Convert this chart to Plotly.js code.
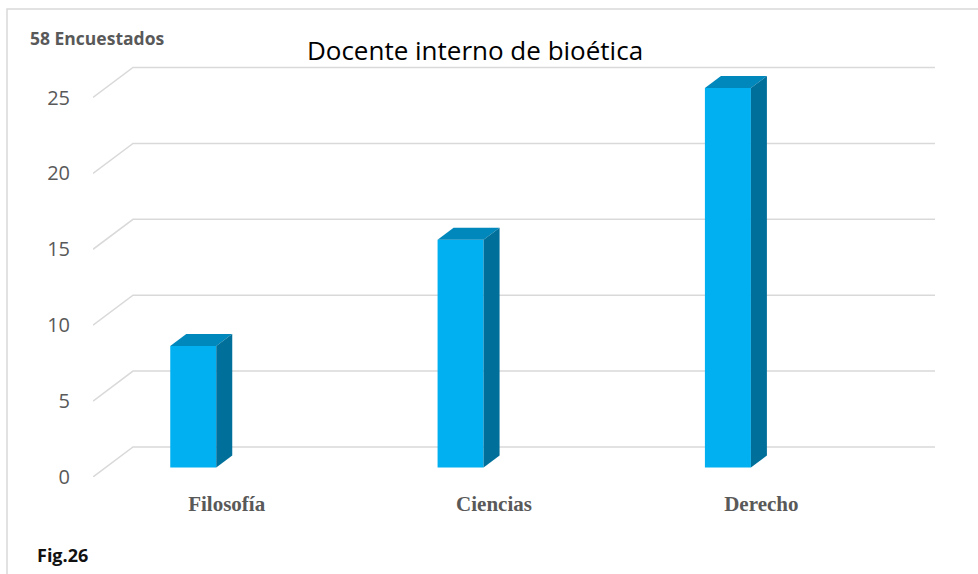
<!DOCTYPE html>
<html>
<head>
<meta charset="utf-8">
<script src="https://cdn.plot.ly/plotly-3.0.1.min.js"></script>
<style>
  html, body { margin: 0; padding: 0; background: #fff; }
  #chart { width: 978px; height: 574px; }
</style>
</head>
<body>
<div id="chart"></div>
<script>
// Docente interno de bioética – respuestas por facultad
const categories = ['Filosofía', 'Ciencias', 'Derecho'];
const values = [8, 15, 25];
const tickValues = [0, 5, 10, 15, 20, 25];

// Plot geometry (pixels) used to express the pseudo-3D depth in axis units
const W = 978, H = 574;
const M = { l: 93, r: 43, t: 60, b: 97 };
const plotW = W - M.l - M.r;
const plotH = H - M.t - M.b;
const X0 = -0.5, PX_PER_X = 267.33;           // one category per 267 px
const Y0 = 0, PX_PER_Y = 15.18;               // one unit per 15.18 px
const xRange = [X0, X0 + plotW / PX_PER_X];
const yRange = [Y0, Y0 + plotH / PX_PER_Y];

// floor depth (back wall offset) and bar depth, in axis units
const floorDX = 40 / PX_PER_X, floorDY = 30 / PX_PER_Y;
const barDX = 16 / PX_PER_X, barDY = 12 / PX_PER_Y;
const barBase = 9.5 / PX_PER_Y;               // bar sits a third into the floor
const barShift = -0.125, barWidth = 46 / PX_PER_X;

const FRONT = '#00B0F0', TOP = '#0088BC', SIDE = '#006F9A', GRID = '#D9D9D9';

const catIdx = categories.map((c, i) => i);

const traces = [];

// front faces
traces.push({
  type: 'bar',
  x: catIdx,
  y: values,
  base: barBase,
  width: barWidth,
  offset: barShift - barWidth / 2,
  marker: { color: FRONT, line: { width: 0 } },
  hovertemplate: '%{text}: %{y}<extra></extra>',
  text: categories,
  textposition: 'none',
  showlegend: false
});

// top and side faces
values.forEach((v, i) => {
  const xl = i + barShift - barWidth / 2;
  const xr = i + barShift + barWidth / 2;
  const yt = barBase + v;
  traces.push({
    type: 'scatter', mode: 'lines', fill: 'toself', fillcolor: TOP,
    line: { width: 0, color: TOP }, hoverinfo: 'skip', showlegend: false,
    x: [xl, xr, xr + barDX, xl + barDX, xl],
    y: [yt, yt, yt + barDY, yt + barDY, yt]
  });
  traces.push({
    type: 'scatter', mode: 'lines', fill: 'toself', fillcolor: SIDE,
    line: { width: 0, color: SIDE }, hoverinfo: 'skip', showlegend: false,
    x: [xr, xr + barDX, xr + barDX, xr, xr],
    y: [barBase, barBase + barDY, yt + barDY, yt, barBase]
  });
});

// back wall gridlines with their floor diagonals
const shapes = tickValues.map(v => ({
  type: 'path', xref: 'x', yref: 'y', layer: 'below',
  path: `M ${X0} ${v} L ${X0 + floorDX} ${v + floorDY} L ${xRange[1]} ${v + floorDY}`,
  line: { color: GRID, width: 1.5 }
}));

// chart frame
const px2paperX = px => (px - M.l) / plotW;
const px2paperY = py => (H - M.b - py) / plotH;
shapes.push({
  type: 'rect', xref: 'paper', yref: 'paper', layer: 'below',
  x0: px2paperX(7), x1: px2paperX(1000),
  y0: px2paperY(600), y1: px2paperY(9),
  line: { color: GRID, width: 1.5 }, fillcolor: 'rgba(0,0,0,0)'
});

const layout = {
  width: W, height: H,
  margin: M,
  paper_bgcolor: '#fff', plot_bgcolor: 'rgba(0,0,0,0)',
  title: {
    text: 'Docente interno de bioética',
    x: 475 / W, xanchor: 'center', xref: 'container',
    y: 1 - 51 / H, yanchor: 'middle', yref: 'container',
    font: { family: 'Open Sans, sans-serif', size: 26, color: '#000' }
  },
  xaxis: {
    range: xRange, fixedrange: true,
    tickvals: catIdx, ticktext: categories,
    showgrid: false, zeroline: false, showline: false, ticks: '',
    ticklabelstandoff: 12,
    tickfont: { family: 'Liberation Serif, serif', size: 21, color: '#595959', weight: 'bold' }
  },
  yaxis: {
    range: yRange, fixedrange: true,
    tickvals: tickValues,
    showgrid: false, zeroline: false, showline: false, ticks: '',
    ticklabelstandoff: 22,
    tickfont: { family: 'Open Sans, sans-serif', size: 20, color: '#595959' }
  },
  shapes: shapes,
  annotations: [
    {
      text: '<b>58 Encuestados</b>', xref: 'paper', yref: 'paper',
      x: px2paperX(28), y: px2paperY(38), xanchor: 'left', yanchor: 'middle',
      showarrow: false,
      font: { family: 'Open Sans, sans-serif', size: 17.5, color: '#595959' }
    },
    {
      text: '<b>Fig.26</b>', xref: 'paper', yref: 'paper',
      x: px2paperX(35), y: px2paperY(555), xanchor: 'left', yanchor: 'middle',
      showarrow: false,
      font: { family: 'Open Sans, sans-serif', size: 18, color: '#111' }
    }
  ]
};

Plotly.newPlot('chart', traces, layout, { displayModeBar: false, staticPlot: true });
</script>
</body>
</html>
